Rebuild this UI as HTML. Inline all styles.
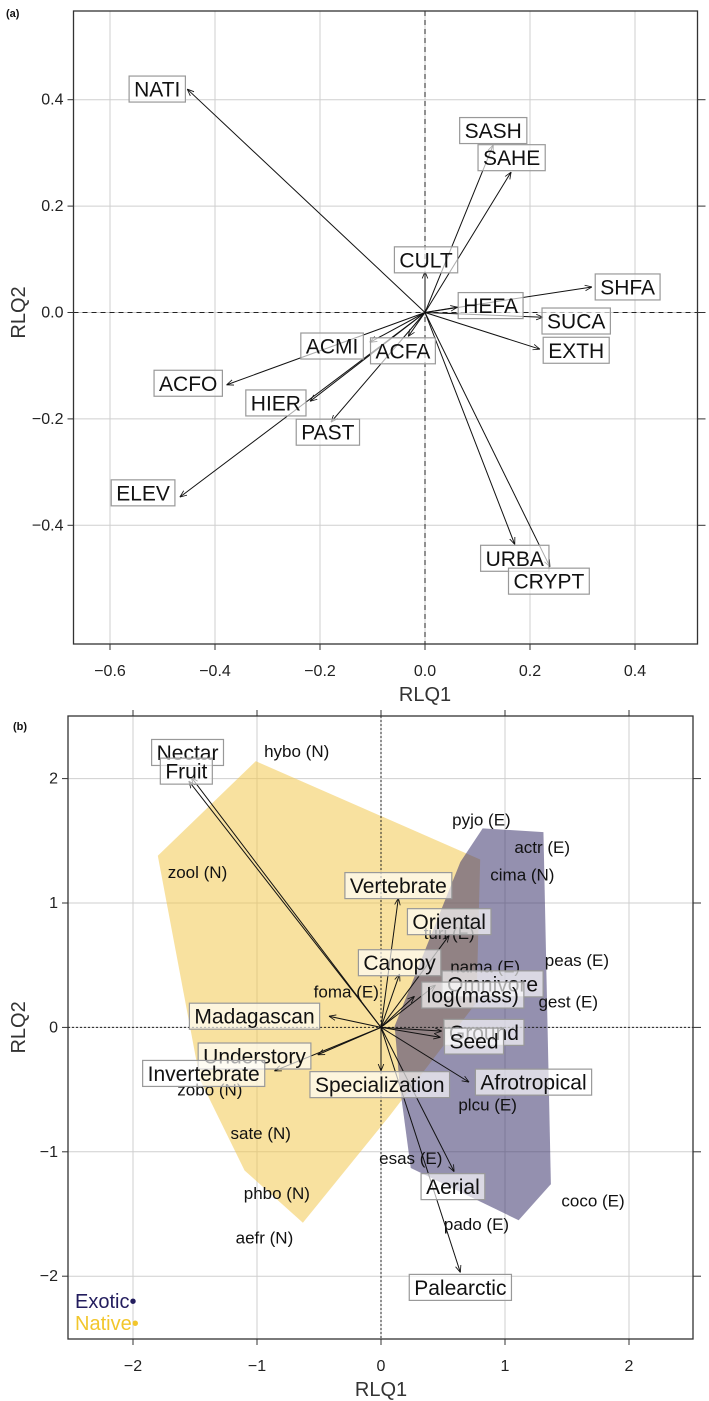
<!DOCTYPE html>
<html><head><meta charset="utf-8"><style>
html,body{margin:0;padding:0;background:#fff}
svg{display:block;font-family:"Liberation Sans",Arial,sans-serif}
</style></head><body>
<svg id="fig" width="709" height="1401" viewBox="0 0 709 1401" xmlns="http://www.w3.org/2000/svg">
<defs><marker id="ah" viewBox="0 0 10 10" refX="10" refY="5" markerWidth="7" markerHeight="7" orient="auto"><path d="M0,1 L10,5 L0,9" fill="none" stroke="#111" stroke-width="1.2"/></marker></defs>
</svg>
<script>
// ---- Panel (a) data ----
const aVars = ["NATI","SASH","SAHE","CULT","SHFA","HEFA","SUCA","EXTH","URBA","CRYPT","ACMI","ACFA","ACFO","HIER","PAST","ELEV"];
const aX = [-0.453,0.13,0.164,0,0.318,0.062,0.225,0.219,0.171,0.238,-0.105,-0.032,-0.378,-0.219,-0.179,-0.467];
const aY = [0.42,0.315,0.264,0.077,0.048,0.01,-0.009,-0.069,-0.436,-0.478,-0.056,-0.045,-0.136,-0.167,-0.206,-0.347];
const aLabX = [-0.51,0.13,0.165,0.002,0.386,0.125,0.288,0.288,0.171,0.236,-0.177,-0.042,-0.451,-0.284,-0.185,-0.537];
const aLabY = [0.42,0.342,0.291,0.099,0.048,0.013,-0.016,-0.071,-0.462,-0.505,-0.063,-0.072,-0.133,-0.17,-0.225,-0.339];
const aXTicks = [-0.6,-0.4,-0.2,0.0,0.2,0.4];
const aYTicks = [-0.4,-0.2,0.0,0.2,0.4];
// ---- Panel (b) data ----
const bVars = ["Nectar","Fruit","Vertebrate","Oriental","Canopy","Omnivore","log(mass)","Madagascan","Ground","Seed","Understory","Invertebrate","Specialization","Afrotropical","Aerial","Palearctic"];
const bX = [-1.53,-1.55,0.14,0.55,0.15,0.44,0.27,-0.42,0.49,0.48,-0.51,-0.86,0,0.71,0.59,0.64];
const bY = [2.01,1.98,1.04,0.74,0.43,0.34,0.25,0.09,-0.03,-0.08,-0.22,-0.35,-0.35,-0.44,-1.16,-1.97];
const bLabX = [-1.56,-1.57,0.14,0.55,0.15,0.9,0.74,-1.02,0.83,0.75,-1.02,-1.43,-0.01,1.23,0.58,0.64];
const bLabY = [2.21,2.06,1.14,0.85,0.52,0.35,0.26,0.09,-0.04,-0.11,-0.23,-0.37,-0.46,-0.44,-1.28,-2.09];
const spNames = ["hybo (N)","zool (N)","pyjo (E)","actr (E)","cima (N)","turi (E)","peas (E)","nama (E)","gest (E)","foma (E)","zobo (N)","sate (N)","plcu (E)","esas (E)","coco (E)","phbo (N)","pado (E)","aefr (N)"];
const spX = [-0.68,-1.48,0.81,1.3,1.14,0.55,1.58,0.84,1.51,-0.28,-1.38,-0.97,0.86,0.24,1.71,-0.84,0.77,-0.94];
const spY = [2.22,1.25,1.67,1.45,1.23,0.76,0.54,0.49,0.21,0.29,-0.5,-0.85,-0.62,-1.05,-1.39,-1.33,-1.58,-1.69];
const nativeX = [-1.80,-1.01,0.80,0.77,0.07,-0.63,-1.10,-1.46];
const nativeY = [1.38,2.14,1.35,0.2,-0.71,-1.57,-1.15,-0.42];
const exoticX = [0.82,1.31,1.37,1.11,0.24,0.15,0.11,0.64];
const exoticY = [1.60,1.57,-1.26,-1.55,-1.13,-0.46,0.01,1.33];
const bTicks = [-2,-1,0,1,2];

const NS="http://www.w3.org/2000/svg";
const svg=document.getElementById('fig');
function mk(tag,attrs,parent,text){const e=document.createElementNS(NS,tag);for(const k in attrs)e.setAttribute(k,attrs[k]);if(text!==undefined)e.textContent=text;(parent||svg).appendChild(e);return e;}

function panel(cfg){
  const g=mk('g',{});
  
  
  const sx=v=>cfg.x0+v*cfg.kx, sy=v=>cfg.y0-v*cfg.ky;
  cfg.xt.forEach(t=>{const l=mk('line',{x1:sx(t),x2:sx(t),y1:cfg.top,y2:cfg.bot,stroke:'#cfcfcf','stroke-width':1},g);});
  cfg.yt.forEach(t=>{const l=mk('line',{x1:cfg.left,x2:cfg.right,y1:sy(t),y2:sy(t),stroke:'#cfcfcf','stroke-width':1},g);});
  if(cfg.polys)cfg.polys(g,sx,sy);
  const z1=mk('line',{x1:sx(0),x2:sx(0),y1:cfg.top,y2:cfg.bot,stroke:'#222','stroke-width':1,'stroke-dasharray':cfg.dash},g);
  
  const z2=mk('line',{x1:cfg.left,x2:cfg.right,y1:sy(0),y2:sy(0),stroke:'#222','stroke-width':1,'stroke-dasharray':cfg.dash},g);
  
  const fr=mk('rect',{x:cfg.left,y:cfg.top,width:cfg.right-cfg.left,height:cfg.bot-cfg.top,fill:'none',stroke:'#333','stroke-width':1.3},g);
  
  cfg.xt.forEach(t=>{
    mk('line',{x1:sx(t),x2:sx(t),y1:cfg.bot,y2:cfg.bot+6,stroke:'#333'},g);
    if(cfg.topTicks)mk('line',{x1:sx(t),x2:sx(t),y1:cfg.top,y2:cfg.top-6,stroke:'#333'},g);
    const tx=mk('text',{x:sx(t),y:cfg.bot+32,'text-anchor':'middle','font-size':16,fill:'#222'},g,cfg.fmt(t));
    
  });
  cfg.yt.forEach(t=>{
    mk('line',{x1:cfg.left,x2:cfg.left-6,y1:sy(t),y2:sy(t),stroke:'#333'},g);
    mk('line',{x1:cfg.right,x2:cfg.right+8,y1:sy(t),y2:sy(t),stroke:'#333'},g);
    const tx=mk('text',{x:cfg.left-10,y:sy(t)+5,'text-anchor':'end','font-size':16,fill:'#222'},g,cfg.fmt(t));
    
  });
  const xt=mk('text',{x:sx(0),y:cfg.bot+57,'text-anchor':'middle','font-size':20,fill:'#333'},g,'RLQ1');
  
  const yt=mk('text',{x:0,y:0,transform:`translate(25,${sy(0)}) rotate(-90)`,'text-anchor':'middle','font-size':20,fill:'#333'},g,'RLQ2');
  
  const pl=mk('text',{x:cfg.plx,y:cfg.ply,'font-size':11,'font-weight':'bold',fill:'#111'},g,cfg.plabel);
  
  if(cfg.extra)cfg.extra(g,sx,sy);
  cfg.vx.forEach((v,i)=>{
    const a=mk('line',{x1:sx(0),y1:sy(0),x2:sx(v),y2:sy(cfg.vy[i]),stroke:'#111','stroke-width':1,'marker-end':'url(#ah)'},g);
    
    
  });
  cfg.vars.forEach((n,i)=>{
    const lg=mk('g',{},g);
    
    
    const cx=sx(cfg.lx[i]),cy=sy(cfg.ly[i]);
    const t=mk('text',{x:cx,y:cy+7.5,'text-anchor':'middle','font-size':21,fill:'#111'},lg,n);
    const w=t.getComputedTextLength();
    const r=mk('rect',{x:cx-w/2-5,y:cy-13,width:w+10,height:26,fill:'rgba(255,255,255,0.65)',stroke:'#999','stroke-width':1.2});
    lg.insertBefore(r,t);
  });
}

panel({name:'panel-a-plot',vars:aVars,vx:aX,vy:aY,lx:aLabX,ly:aLabY,xt:aXTicks,yt:aYTicks,
  x0:425,kx:525,y0:312.5,ky:532,left:73.5,right:697.5,top:11,bot:644,dash:'5,4',
  fmt:t=>t.toFixed(1).replace('-','\u2212'),plabel:'(a)',plx:6,ply:17,topTicks:false});

panel({name:'panel-b-plot',vars:bVars,vx:bX,vy:bY,lx:bLabX,ly:bLabY,xt:bTicks,yt:bTicks,
  x0:381,kx:124,y0:1027.4,ky:124.4,left:68,right:693,top:716,bot:1339,dash:'2,2',
  fmt:t=>String(t).replace('-','\u2212'),plabel:'(b)',plx:13,ply:730,topTicks:true,
  polys:(g,sx,sy)=>{
    const p1=mk('polygon',{points:nativeX.map((v,i)=>sx(v)+','+sy(nativeY[i])).join(' '),fill:'rgba(242,200,80,0.55)',stroke:'none'},g);
    
    const p2=mk('polygon',{points:exoticX.map((v,i)=>sx(v)+','+sy(exoticY[i])).join(' '),fill:'rgba(60,52,110,0.55)',stroke:'none'},g);
    
  },
  extra:(g,sx,sy)=>{
    spNames.forEach((n,i)=>{
      const t=mk('text',{x:sx(spX[i]),y:sy(spY[i])+6,'text-anchor':'middle','font-size':17,fill:'#111'},g,n);
      
      
    });
    const e=mk('text',{x:75,y:1308,'font-size':20,fill:'#231d5e'},g,'Exotic\u2022');
    
    const nn=mk('text',{x:75,y:1330,'font-size':20,fill:'#f2c62c'},g,'Native\u2022');
    
  }});
</script>
</body></html>
